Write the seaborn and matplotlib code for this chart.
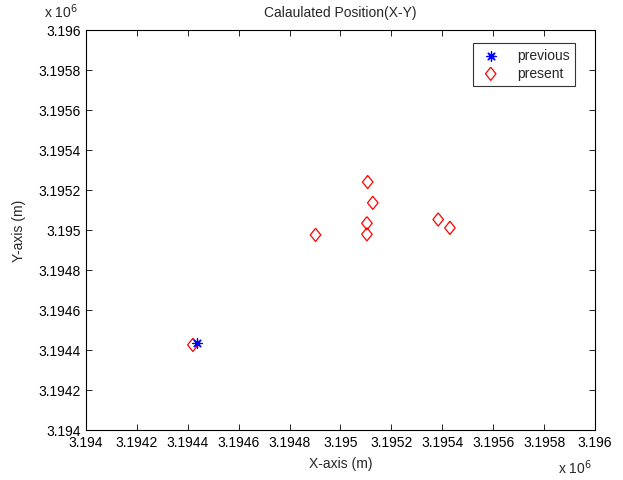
import matplotlib
matplotlib.use("Agg")
import matplotlib.pyplot as plt
import matplotlib.ticker as mticker
import pandas as pd
import seaborn as sns

# positions in metres
prev_x = [3194435]
prev_y = [3194435]

pres_x = [3194420, 3195107, 3195127, 3195104, 3195104, 3194902, 3195384, 3195430]
pres_y = [3194425, 3195239, 3195135, 3195033, 3194978, 3194975, 3195052, 3195010]

ticks = [3194000 + 200 * i for i in range(11)]

sns.set_style("white")
plt.rcParams['font.family'] = ['Liberation Sans', 'DejaVu Sans']
plt.rcParams['xtick.direction'] = 'in'
plt.rcParams['ytick.direction'] = 'in'

fs = 10

fig = plt.figure(figsize=(6.23, 4.81), dpi=100)
ax = fig.add_axes([0.138, 0.104, 0.817, 0.832])

prev = pd.DataFrame({"x": prev_x, "y": prev_y})
pres = pd.DataFrame({"x": pres_x, "y": pres_y})

diamond = [(0, 1), (0.8, 0), (0, -1), (-0.8, 0), (0, 1)]

sns.scatterplot(data=pres, x="x", y="y", ax=ax, marker=diamond, s=90,
                facecolors="none", edgecolor="#ff0000", linewidth=0.9,
                label="present", zorder=2)
sns.scatterplot(data=prev, x="x", y="y", ax=ax, marker=(8, 2, 0), s=45,
                color="#0000ff", edgecolor="#0000ff", linewidth=0.9,
                label="previous", zorder=3)

ax.set_xlim(3194000, 3196000)
ax.set_ylim(3194000, 3196000)
ax.set_xticks(ticks)
ax.set_yticks(ticks)
fmt = mticker.FuncFormatter(lambda v, p: "%g" % round(v / 1e6, 5))
ax.xaxis.set_major_formatter(fmt)
ax.yaxis.set_major_formatter(fmt)
ax.tick_params(labelsize=fs, length=4, width=0.6, colors="black",
               top=True, right=True, bottom=True, left=True)
for sp in ax.spines.values():
    sp.set_color("black")
    sp.set_linewidth(0.8)

ax.set_xlabel("X-axis (m)", fontsize=fs, labelpad=5)
ax.set_ylabel("Y-axis (m)", fontsize=fs, labelpad=9)
ax.set_title("Calaulated Position(X-Y)", fontsize=fs, pad=10)

fig.text(0.071, 0.975, r"x 10$^{6}$", fontsize=fs, ha="left", va="center")
fig.text(0.895, 0.027, r"x 10$^{6}$", fontsize=fs, ha="left", va="center")

handles, labels = ax.get_legend_handles_labels()
order = [labels.index("previous"), labels.index("present")]
leg = ax.legend([handles[i] for i in order], [labels[i] for i in order],
                loc="upper right", bbox_to_anchor=(0.975, 0.985), fontsize=fs,
                frameon=True, fancybox=False, edgecolor="black",
                borderpad=0.4, handletextpad=1.0, labelspacing=0.3,
                handlelength=1.8)
leg.get_frame().set_linewidth(0.8)

fig.savefig("out.png", dpi=100)
